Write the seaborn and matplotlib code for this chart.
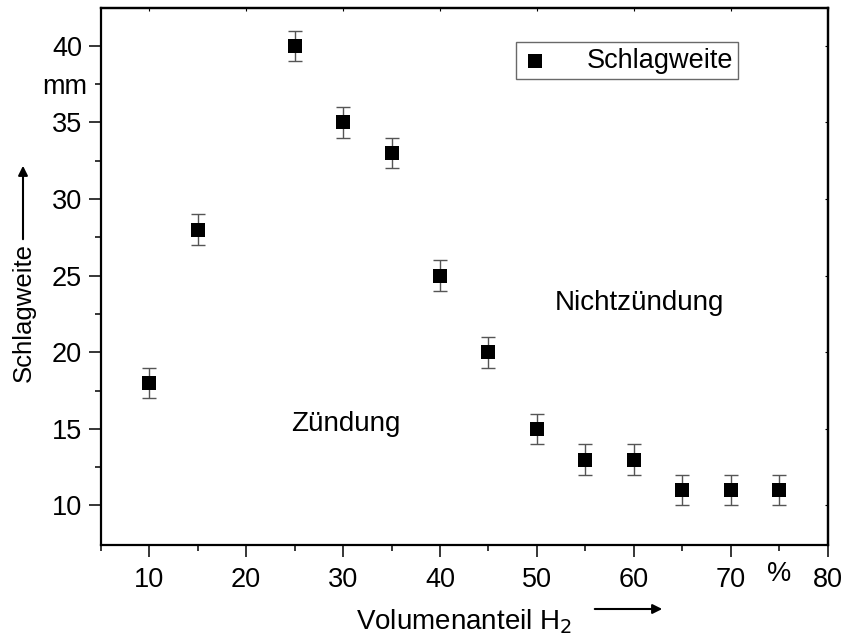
import numpy as np
import pandas as pd
import matplotlib
matplotlib.use("Agg")
import matplotlib.pyplot as plt
import seaborn as sns
from matplotlib.ticker import FixedLocator, FixedFormatter, NullFormatter

# ---- data ----
volumenanteil = [10, 15, 25, 30, 35, 40, 45, 50, 55, 60, 65, 70, 75]
schlagweite = [18, 28, 40, 35, 33, 25, 20, 15, 13, 13, 11, 11, 11]
fehler = [1, 1, 1, 1, 1, 1, 1, 1, 1, 1, 1, 1, 1]

x_major = [10, 20, 30, 40, 50, 60, 70, 80]
x_minor = [5, 15, 25, 35, 45, 55, 65, 75]
x_minor_labels = ["", "", "", "", "", "", "", "%"]
y_major = [10, 15, 20, 25, 30, 35, 40]
y_minor = [12.5, 17.5, 22.5, 27.5, 32.5, 37.5]
y_minor_labels = ["", "", "", "", "", "mm"]

df = pd.DataFrame({"x": volumenanteil, "y": schlagweite, "err": fehler})

sns.set_style("ticks")
plt.rcParams["font.family"] = ["Liberation Sans", "DejaVu Sans"]
for k in ["text.color", "axes.labelcolor", "xtick.color", "ytick.color", "axes.edgecolor"]:
    plt.rcParams[k] = "black"

fig = plt.figure(figsize=(8.45, 6.43), dpi=100)
ax = fig.add_axes([0.1192, 0.1519, 0.8603, 0.8364])

ax.errorbar(df["x"], df["y"], yerr=df["err"], fmt="none", ecolor="#555555",
            elinewidth=1.0, capsize=5, capthick=1.0, zorder=2)
sns.scatterplot(data=df, x="x", y="y", marker="s", color="black", s=115,
                edgecolor="black", linewidth=0, ax=ax, zorder=3,
                label="Schlagweite")

ax.set_xlim(5, 80)
ax.set_ylim(7.4, 42.5)

ax.xaxis.set_major_locator(FixedLocator(x_major))
ax.xaxis.set_minor_locator(FixedLocator(x_minor))
ax.xaxis.set_minor_formatter(FixedFormatter(x_minor_labels))
ax.yaxis.set_major_locator(FixedLocator(y_major))
ax.yaxis.set_minor_locator(FixedLocator(y_minor))
ax.yaxis.set_minor_formatter(FixedFormatter(y_minor_labels))

for s in ax.spines.values():
    s.set_linewidth(1.6)
    s.set_color("black")

ax.tick_params(axis="both", which="major", direction="out", length=8.5, width=1.1,
               color="black")
ax.tick_params(axis="both", which="minor", direction="out", length=4.5, width=1.1,
               color="black")
ax.tick_params(axis="y", which="both", labelsize=19.5, pad=5)
ax.tick_params(axis="x", which="both", labelsize=19.5, pad=7)

# tiny inward ticks on top and right edges
top = ax.secondary_xaxis("top")
top.xaxis.set_major_locator(FixedLocator(x_major))
top.xaxis.set_major_formatter(NullFormatter())
top.tick_params(direction="in", length=2.5, width=0.8)
top.spines["top"].set_linewidth(1.6)
right = ax.secondary_yaxis("right")
right.yaxis.set_major_locator(FixedLocator(y_major))
right.yaxis.set_major_formatter(NullFormatter())
right.tick_params(direction="in", length=2.5, width=0.8)
right.spines["right"].set_linewidth(1.6)

ax.set_xlabel("Volumenanteil H$_2$", fontsize=20, labelpad=10)
ax.set_ylabel("")

fig.text(24 / 845, 1 - 313 / 643, "Schlagweite", rotation=90, fontsize=18.5,
         ha="center", va="center")

ax.annotate("", xy=(23, 643 - 163), xytext=(23, 643 - 242), xycoords="figure pixels",
            textcoords="figure pixels",
            arrowprops=dict(arrowstyle="-|>", color="black", lw=1.5, mutation_scale=14))
ax.annotate("", xy=(665, 643 - 609), xytext=(592, 643 - 609), xycoords="figure pixels",
            textcoords="figure pixels",
            arrowprops=dict(arrowstyle="-|>", color="black", lw=1.5, mutation_scale=14))

ax.text(30.3, 15.3, "Zündung", fontsize=20, ha="center", va="center")
ax.text(60.6, 23.2, "Nichtzündung", fontsize=20, ha="center", va="center")

leg = ax.legend(loc="upper right", bbox_to_anchor=(0.877, 0.935), fontsize=19.5,
                frameon=True, fancybox=False, edgecolor="#444444",
                handletextpad=1.4, borderpad=0.2, borderaxespad=0,
                handlelength=1.0, markerscale=1.0)
leg.get_frame().set_linewidth(1.0)

fig.savefig("out.png", dpi=100)
